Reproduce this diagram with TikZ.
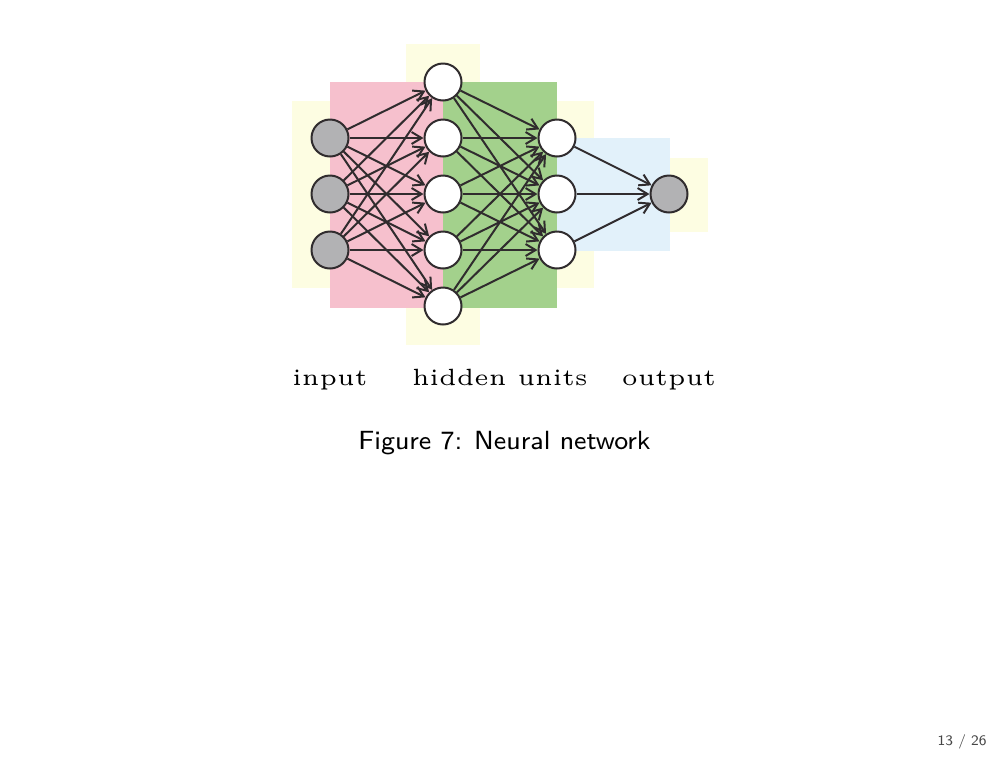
\documentclass[tikz,border=0pt]{standalone}
\usepackage{fontspec}
\usetikzlibrary{arrows.meta}
\newfontfamily\layerfont{lmroman5-regular.otf}
\newfontfamily\capfont{lmsans8-regular.otf}

\definecolor{padyellow}{RGB}{253,253,226}
\definecolor{inpink}{RGB}{246,192,205}
\definecolor{midgreen}{RGB}{163,209,140}
\definecolor{outblue}{RGB}{226,241,250}
\definecolor{unitgray}{RGB}{178,178,180}
\definecolor{netline}{RGB}{48,44,46}
\definecolor{pagegray}{RGB}{70,70,70}

\begin{document}
\begin{tikzpicture}[x=1pt,y=-1pt,
    unit/.style={circle,draw=netline,line width=2pt,minimum size=37pt,inner sep=0pt,fill=white},
    given/.style={unit,fill=unitgray},
    link/.style={draw=netline,line width=2pt,-{Straight Barb[length=10pt,width=12pt]}},
    layerlabel/.style={font=\layerfont\fontsize{23.5}{28}\selectfont,anchor=base}]
    \useasboundingbox (0,0) rectangle (1008,756);

    % padding behind each layer
    \fill[padyellow] (292,101) rectangle (368,288);
    \fill[padyellow] (406,44) rectangle (480,345);
    \fill[padyellow] (521,101) rectangle (594,288);
    \fill[padyellow] (632,158) rectangle (708,232);
    % weights between layers
    \fill[inpink] (330,82) rectangle (443,308);
    \fill[midgreen] (443,82) rectangle (557,308);
    \fill[outblue] (557,138) rectangle (670,251);

    % units
    \foreach \i/\y in {1/138,2/194,3/250}
        \node[given] (in\i) at (330,\y) {};
    \foreach \i/\y in {1/82,2/138,3/194,4/250,5/306}
        \node[unit] (hA\i) at (443,\y) {};
    \foreach \i/\y in {1/138,2/194,3/250}
        \node[unit] (hB\i) at (557,\y) {};
    \node[given] (out) at (669,194) {};

    % connections
    \foreach \i in {1,2,3}
        \foreach \j in {1,...,5}
            \draw[link] (in\i) -- (hA\j);
    \foreach \i in {1,...,5}
        \foreach \j in {1,2,3}
            \draw[link] (hA\i) -- (hB\j);
    \foreach \i in {1,2,3}
        \draw[link] (hB\i) -- (out);

    % labels
    \node[layerlabel] (lblin) at (330,385) {input};
    \node[layerlabel] (lblhid) at (500,385) {hidden units};
    \node[layerlabel] (lblout) at (669,385) {output};
    \node[font=\capfont\fontsize{26.3}{30}\selectfont,anchor=base] (caption) at (504.5,449) {Figure 7:\hspace{0.45em}Neural network};
    \node[font=\capfont\fontsize{14.5}{17}\selectfont,text=pagegray,anchor=base east] (pagenum) at (990,745) {13 / 26};
\end{tikzpicture}
\end{document}
